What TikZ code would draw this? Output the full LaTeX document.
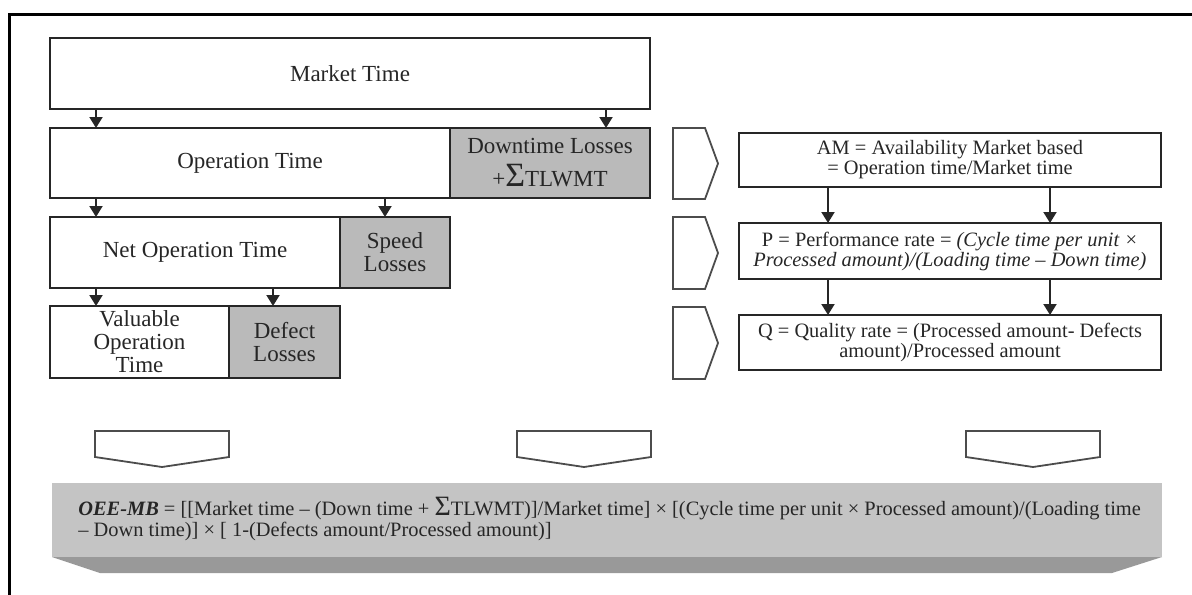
\documentclass[tikz,border=0pt]{standalone}
\usepackage{fontspec}
\setmainfont{Liberation Serif}
\usetikzlibrary{arrows.meta, calc}

\begin{document}
\begin{tikzpicture}[x=0.5pt, y=-0.5pt,
    box/.style={draw=black!85, line width=1.4pt, inner sep=0pt, outer sep=0pt, anchor=north west,
        align=center, text=black!85, font=\fontsize{11.5}{11.5}\selectfont},
    loss/.style={box, fill=black!27},
    rbox/.style={box, font=\fontsize{10.2}{10}\selectfont},
    flow/.style={draw=black!85, line width=1pt, -{Triangle[width=6.5pt,length=5.5pt]}},
    chev/.style={draw=black!70, line width=0.9pt}]

    \useasboundingbox (0,0) rectangle (1192,594);

    % cornice
    \draw[line width=1.5pt] (9,600) -- (9,14) -- (1200,14);

    % colonna dei tempi
    \node[box, minimum width=300pt, minimum height=35.5pt] (mkt) at (50,38) {Market Time};
    \node[box, minimum width=200pt, minimum height=35pt] (opt) at (50,128) {Operation Time};
    \node[loss, minimum width=100pt, minimum height=35pt] (dtl) at (450,128)
        {Downtime Losses\\[5pt]+{\fontsize{17}{17}\selectfont Σ}TLWMT};
    \node[box, minimum width=145pt, minimum height=35.5pt] (not) at (50,217) {Net Operation Time};
    \node[loss, minimum width=55pt, minimum height=35.5pt] (spl) at (340,217) {Speed\\Losses};
    \node[box, minimum width=89.5pt, minimum height=36pt] (vot) at (50,306) {Valuable\\Operation\\Time};
    \node[loss, minimum width=55.5pt, minimum height=36pt] (dfl) at (229,306) {Defect\\Losses};

    % frecce a sinistra
    \draw[flow] ([xshift=23pt]mkt.south west) -- ([xshift=23pt]opt.north west);
    \draw[flow] ([xshift=-22pt]mkt.south east) -- ([xshift=-22pt]dtl.north east);
    \draw[flow] ([xshift=23pt]opt.south west) -- ([xshift=23pt]not.north west);
    \draw[flow] ([xshift=167.5pt]opt.south west) -- ([xshift=22.5pt]spl.north west);
    \draw[flow] ([xshift=23pt]not.south west) -- ([xshift=23pt]vot.north west);
    \draw[flow] ([xshift=111.5pt]not.south west) -- ([xshift=22pt]dfl.north west);

    % frecce larghe verso destra
    \foreach \t/\b in {128/199, 217/289, 307/379}
        \draw[chev] (673,\t) -- (705,\t) -- (718,{(\t+\b)/2}) -- (705,\b) -- (673,\b) -- cycle;

    % indici
    \node[rbox, minimum width=211pt, minimum height=27pt] (am) at (739,133)
        {AM = Availability Market based\\= Operation time/Market time};
    \node[rbox, minimum width=211pt, minimum height=28pt] (pr) at (739,223)
        {P = Performance rate = \textit{(Cycle time per unit ×}\\\textit{Processed amount)/(Loading time – Down time)}};
    \node[rbox, minimum width=211pt, minimum height=27.5pt] (qr) at (739,315)
        {Q = Quality rate = (Processed amount- Defects\\amount)/Processed amount};

    \draw[flow] ([xshift=44.5pt]am.south west) -- ([xshift=44.5pt]pr.north west);
    \draw[flow] ([xshift=155.5pt]am.south west) -- ([xshift=155.5pt]pr.north west);
    \draw[flow] ([xshift=44.5pt]pr.south west) -- ([xshift=44.5pt]qr.north west);
    \draw[flow] ([xshift=155.5pt]pr.south west) -- ([xshift=155.5pt]qr.north west);

    % frecce larghe verso il basso
    \foreach \l in {95, 517, 966}
        \draw[chev] (\l,431) -- (\l+134,431) -- (\l+134,457) -- (\l+67,467) -- (\l,457) -- cycle;

    % fascia OEE-MB
    \fill[black!23] (52,483) rectangle (1162,557);
    \fill[black!40] (52,557) -- (1162,557) -- (1112,573) -- (100,573) -- cycle;
    \node[anchor=west, align=left, inner sep=0pt, text=black!85, font=\fontsize{10.2}{10.5}\selectfont] (oee) at (78,519)
        {\textbf{\textit{OEE-MB}} = [[Market time – (Down time + {\fontsize{14}{14}\selectfont Σ}TLWMT)]/Market time] × [(Cycle time per unit × Processed amount)/(Loading time\\– Down time)] × [ 1-(Defects amount/Processed amount)]};
\end{tikzpicture}
\end{document}
